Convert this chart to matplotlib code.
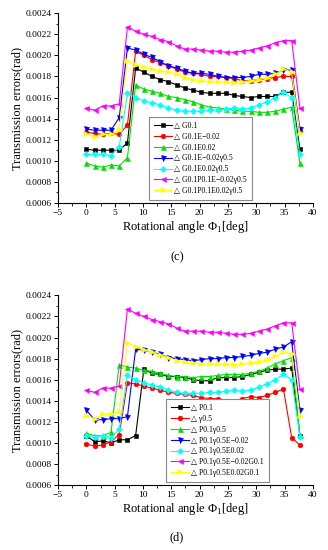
import matplotlib
matplotlib.use("Agg")
import matplotlib.pyplot as plt
from matplotlib.ticker import MultipleLocator, FormatStrFormatter

plt.rcParams["font.family"] = ["Liberation Serif", "DejaVu Serif"]

# rotational angle samples (deg)
angle = [0, 1.45, 2.9, 4.35, 5.8, 7.25, 8.7, 10.15, 11.6, 13.05, 14.5, 15.95, 17.4,
         18.85, 20.3, 21.75, 23.2, 24.65, 26.1, 27.55, 29.0, 30.45, 31.9, 33.35,
         34.8, 36.25, 37.7]

# panel (c), values in 1e-3 rad
labels_c = ["△ G0.1", "△ G0.1E−0.02", "△ G0.1E0.02", "△ G0.1E−0.02γ0.5",
            "△ G0.1E0.02γ0.5", "△ G0.1P0.1E−0.02γ0.5", "△ G0.1P0.1E0.02γ0.5"]
c_g01 = [1.11, 1.10, 1.10, 1.10, 1.10, 1.17, 1.88, 1.84, 1.80, 1.77, 1.75, 1.72, 1.69,
         1.67, 1.65, 1.64, 1.64, 1.64, 1.62, 1.61, 1.60, 1.61, 1.61, 1.61, 1.65, 1.65, 1.11]
c_g01_em = [1.27, 1.26, 1.25, 1.26, 1.25, 1.34, 2.04, 2.00, 1.96, 1.93, 1.90, 1.87, 1.84,
            1.83, 1.82, 1.80, 1.80, 1.79, 1.78, 1.76, 1.76, 1.77, 1.78, 1.79, 1.80, 1.80, 1.28]
c_g01_ep = [0.98, 0.95, 0.94, 0.96, 0.95, 1.03, 1.72, 1.68, 1.66, 1.64, 1.61, 1.60, 1.58,
            1.56, 1.53, 1.51, 1.50, 1.49, 1.48, 1.47, 1.47, 1.46, 1.46, 1.47, 1.49, 1.51, 0.98]
c_g01_em_y = [1.30, 1.29, 1.29, 1.29, 1.41, 2.07, 2.05, 2.01, 1.98, 1.94, 1.90, 1.88, 1.85,
              1.83, 1.83, 1.82, 1.80, 1.79, 1.79, 1.79, 1.80, 1.82, 1.82, 1.83, 1.86, 1.86, 1.30]
c_g01_ep_y = [1.06, 1.06, 1.06, 1.05, 1.13, 1.64, 1.60, 1.57, 1.55, 1.53, 1.50, 1.48, 1.47,
              1.47, 1.47, 1.48, 1.48, 1.49, 1.50, 1.49, 1.50, 1.53, 1.56, 1.60, 1.65, 1.60, 1.06]
c_g01p_em_y = [1.50, 1.48, 1.52, 1.52, 1.54, 2.27, 2.23, 2.20, 2.18, 2.15, 2.13, 2.09, 2.06,
               2.06, 2.05, 2.04, 2.04, 2.03, 2.03, 2.04, 2.05, 2.07, 2.09, 2.12, 2.14, 2.14, 1.50]
c_g01p_ep_y = [1.25, 1.23, 1.25, 1.25, 1.29, 1.95, 1.91, 1.89, 1.87, 1.85, 1.84, 1.82, 1.79,
               1.77, 1.76, 1.75, 1.75, 1.75, 1.74, 1.75, 1.76, 1.77, 1.79, 1.82, 1.87, 1.84, 1.26]

# panel (d), values in 1e-3 rad
labels_d = ["△ P0.1", "△ γ0.5", "△ P0.1γ0.5", "△ P0.1γ0.5E−0.02",
            "△ P0.1γ0.5E0.02", "△ P0.1γ0.5E−0.02G0.1", "△ P0.1γ0.5E0.02G0.1"]
d_p01 = [1.07, 1.01, 1.02, 1.00, 1.03, 1.03, 1.07, 1.70, 1.66, 1.65, 1.63, 1.63, 1.62,
         1.60, 1.59, 1.59, 1.62, 1.62, 1.62, 1.63, 1.65, 1.67, 1.69, 1.70, 1.70, 1.71, 1.07]
d_y05 = [0.99, 0.97, 0.98, 1.01, 1.08, 1.57, 1.56, 1.54, 1.52, 1.50, 1.48, 1.47, 1.46,
         1.45, 1.43, 1.42, 1.42, 1.40, 1.39, 1.42, 1.44, 1.43, 1.45, 1.48, 1.51, 1.05, 0.98]
d_p01_y = [1.09, 1.07, 1.07, 1.10, 1.74, 1.72, 1.71, 1.69, 1.68, 1.66, 1.64, 1.63, 1.63,
           1.62, 1.63, 1.63, 1.64, 1.65, 1.65, 1.65, 1.66, 1.68, 1.71, 1.75, 1.78, 1.81, 1.08]
d_p01_y_em = [1.31, 1.22, 1.22, 1.23, 1.23, 1.25, 1.89, 1.88, 1.86, 1.84, 1.81, 1.80, 1.79,
              1.78, 1.79, 1.80, 1.80, 1.81, 1.81, 1.82, 1.83, 1.85, 1.86, 1.89, 1.91, 1.96, 1.31]
d_p01_y_ep = [1.07, 1.06, 1.07, 1.05, 1.13, 1.64, 1.60, 1.57, 1.55, 1.53, 1.50, 1.48, 1.47,
              1.47, 1.47, 1.48, 1.48, 1.49, 1.50, 1.49, 1.50, 1.53, 1.56, 1.60, 1.65, 1.60, 1.06]
d_p01_y_em_g = [1.50, 1.48, 1.52, 1.52, 1.54, 2.27, 2.23, 2.20, 2.17, 2.15, 2.13, 2.09, 2.06,
                2.06, 2.06, 2.05, 2.05, 2.04, 2.03, 2.03, 2.04, 2.06, 2.08, 2.11, 2.14, 2.14, 1.51]
d_p01_y_ep_g = [1.26, 1.23, 1.27, 1.27, 1.29, 1.95, 1.91, 1.88, 1.86, 1.83, 1.81, 1.78, 1.77,
                1.76, 1.75, 1.75, 1.75, 1.75, 1.74, 1.75, 1.76, 1.77, 1.79, 1.82, 1.86, 1.84, 1.26]

colors = ["black", "red", "#00e000", "blue", "cyan", "magenta", "yellow"]
markers = ["s", "o", "^", "v", "D", "<", ">"]
msizes = [3.2, 3.4, 3.6, 3.6, 3.0, 3.6, 3.6]

fig = plt.figure(figsize=(3.28, 5.5), dpi=100)


def draw_panel(rect, series, labels, leg_anchor, tag, tag_y):
    ax = fig.add_axes(rect)
    for vals, lab, col, mk, ms in zip(series, labels, colors, markers, msizes):
        ax.plot(angle, [v * 1e-3 for v in vals], color=col, marker=mk, ms=ms,
                lw=0.8, label=lab, markeredgewidth=0.4)
    ax.set_xlim(-5, 40)
    ax.set_ylim(0.0006, 0.0024)
    ax.xaxis.set_major_locator(MultipleLocator(5))
    ax.xaxis.set_minor_locator(MultipleLocator(2.5))
    ax.yaxis.set_major_locator(MultipleLocator(0.0002))
    ax.yaxis.set_minor_locator(MultipleLocator(0.0001))
    ax.yaxis.set_major_formatter(FormatStrFormatter("%.4f"))
    ax.spines["top"].set_visible(False)
    ax.spines["right"].set_visible(False)
    ax.tick_params(which="major", direction="out", length=3, width=0.7, labelsize=6.8, pad=1.5)
    ax.tick_params(which="minor", direction="out", length=1.8, width=0.6)
    ax.set_xlabel("Rotational angle Φ$_{\\mathregular{1}}$[deg]", fontsize=9, labelpad=1)
    ax.set_ylabel("Transmission errors(rad)", fontsize=9, labelpad=2)
    leg = ax.legend(loc="lower left", bbox_to_anchor=leg_anchor, fontsize=5.6,
                    frameon=True, fancybox=False, edgecolor="#888888", framealpha=1,
                    handlelength=2.3, handletextpad=0.3, labelspacing=0.36,
                    borderpad=0.65, borderaxespad=0)
    leg.get_frame().set_linewidth(0.8)
    fig.text(0.54, tag_y, tag, ha="center", va="center", fontsize=9)
    return ax


draw_panel([0.177, 0.631, 0.777, 0.345],
           [c_g01, c_g01_em, c_g01_ep, c_g01_em_y, c_g01_ep_y, c_g01p_em_y, c_g01p_ep_y],
           labels_c, (0.357, 0.016), "(c)", 0.533)
draw_panel([0.177, 0.118, 0.777, 0.345],
           [d_p01, d_y05, d_p01_y, d_p01_y_em, d_p01_y_ep, d_p01_y_em_g, d_p01_y_ep_g],
           labels_d, (0.424, 0.016), "(d)", 0.024)

fig.savefig("out.png", dpi=100)
